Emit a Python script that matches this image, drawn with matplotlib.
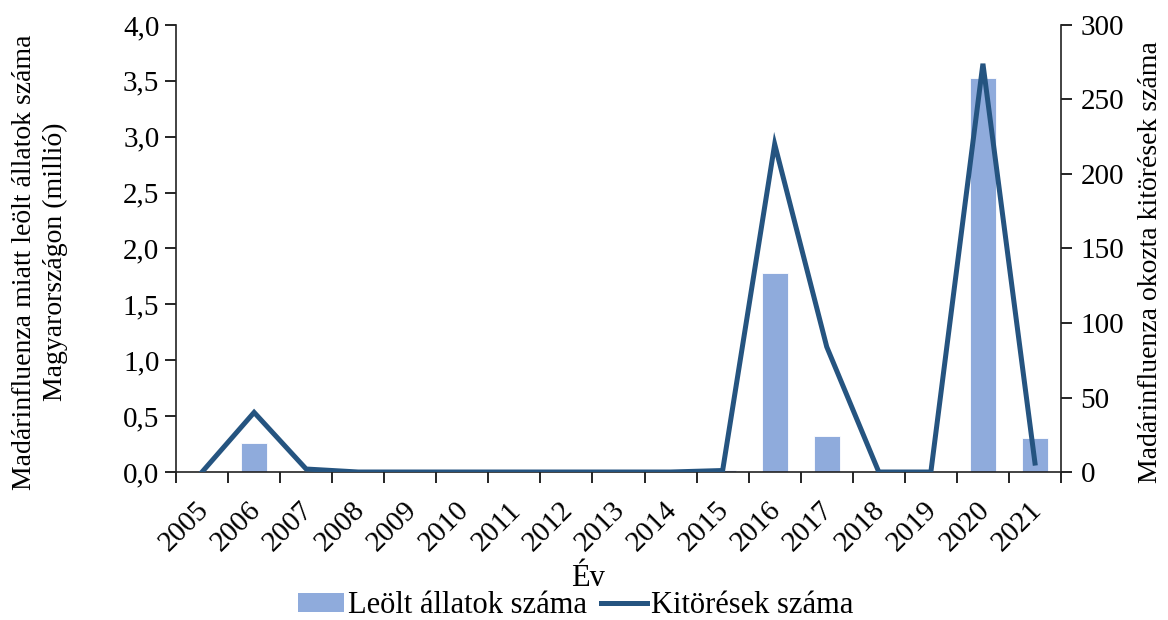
import numpy as np
import matplotlib
matplotlib.use("Agg")
import matplotlib.pyplot as plt
from matplotlib.patches import Patch
from matplotlib.lines import Line2D

# Adatok
evek = ["2005", "2006", "2007", "2008", "2009", "2010", "2011", "2012", "2013",
        "2014", "2015", "2016", "2017", "2018", "2019", "2020", "2021"]
leolt_millio = [0.0, 0.26, 0.0, 0.0, 0.0, 0.0, 0.0, 0.0, 0.0,
                0.0, 0.02, 1.78, 0.32, 0.0, 0.0, 3.53, 0.30]
kitoresek = [0, 40, 2, 0, 0, 0, 0, 0, 0, 0, 1, 220, 84, 0, 0, 274, 6]

bar_color = "#8FABDC"
line_color = "#255480"

plt.rcParams["font.family"] = ["Liberation Serif", "DejaVu Serif"]
plt.rcParams["font.size"] = 20

fig = plt.figure(figsize=(11.68, 6.2), dpi=100)
ax = fig.add_axes([0.1507, 0.2387, 0.7577, 0.7210])
ax2 = ax.twinx()

x = np.arange(len(evek))
ax.bar(x, leolt_millio, width=0.5, color=bar_color, edgecolor="white", linewidth=0.6, zorder=2)
ax2.plot(x, kitoresek, color=line_color, linewidth=3.6, solid_joinstyle="miter", zorder=3)

ax.set_xlim(-0.5, len(evek) - 0.5)
ax.set_ylim(0, 4.0)
ax2.set_ylim(0, 300)

ax.set_yticks(np.arange(0, 4.01, 0.5))
ax.set_yticklabels([f"{v:.1f}".replace(".", ",") for v in np.arange(0, 4.01, 0.5)],
                   fontsize=21)
ax2.set_yticks(np.arange(0, 301, 50))
ax2.set_yticklabels([str(v) for v in range(0, 301, 50)], fontsize=21)

# x tengely: osztásvonalak a kategóriahatárokon, feliratok a közepén
ax.set_xticks(np.arange(-0.5, len(evek), 1.0))
ax.set_xticklabels([])
ax.set_xticks(x - 0.13, minor=True)
ax.set_xticklabels(evek, minor=True, rotation=45, ha="right", va="top",
                   rotation_mode="anchor", fontsize=21)
ax.tick_params(axis="x", which="minor", length=0, pad=18)
ax.tick_params(axis="x", which="major", length=8, width=1.2, direction="out")
ax.tick_params(axis="y", length=8, width=1.2, direction="out", pad=4)
ax2.tick_params(axis="y", length=8, width=1.2, direction="out", pad=6)

for a in (ax, ax2):
    a.spines["top"].set_visible(False)
    for s in ("left", "right", "bottom"):
        a.spines[s].set_linewidth(1.2)
        a.spines[s].set_color("#222222")
ax2.spines["left"].set_visible(False)
ax2.spines["bottom"].set_visible(False)
ax.spines["right"].set_visible(False)

ax.set_ylabel("Madárinfluenza miatt leölt állatok száma\nMagyarországon (millió)",
              linespacing=1.3)
ax.yaxis.set_label_coords(-0.122, 0.47)
ax2.set_ylabel("Madárinfluenza okozta kitörések száma")
ax2.yaxis.set_label_coords(1.087, 0.47)

fig.text(0.503, 0.067, "Év", ha="center", va="center", fontsize=22)

handles = [Patch(facecolor=bar_color, edgecolor="none"),
           Line2D([0], [0], color=line_color, linewidth=3.6)]
fig.legend(handles, ["Leölt állatok száma", "Kitörések száma"], loc="lower center",
           bbox_to_anchor=(0.493, -0.045), ncol=2, frameon=False, fontsize=22,
           handlelength=1.5, handletextpad=0.13, columnspacing=0.45, handleheight=0.55)

fig.savefig("out.png", dpi=100)
